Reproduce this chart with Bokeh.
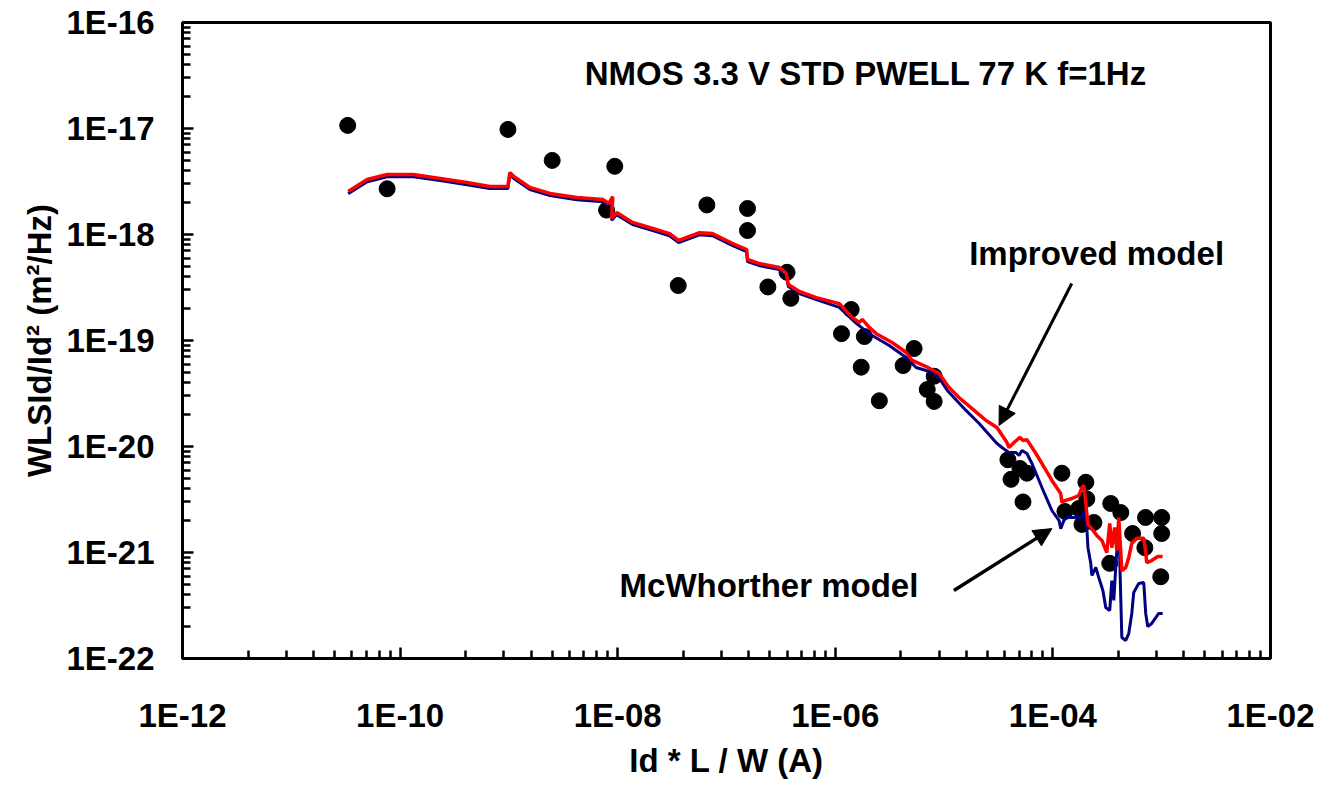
from bokeh.plotting import figure
from bokeh.models import (FixedTicker, CustomJSTickFormatter, Label, Arrow,
                          NormalHead)
from bokeh.embed import file_html
from bokeh.resources import INLINE

FONT = "Liberation Sans"

# ---- data -------------------------------------------------------------
meas_x = [3.3e-11, 7.6e-11, 9.8e-10, 2.5e-09, 9.4e-09, 7.9e-09, 3.6e-08, 6.6e-08,
          1.56e-07, 1.56e-07, 2.4e-07, 3.6e-07, 3.9e-07,
          1.40e-06, 1.14e-06, 1.85e-06, 1.73e-06, 2.54e-06, 5.3e-06, 4.2e-06,
          8.1e-06, 7.0e-06, 8.1e-06,
          3.86e-05, 4.12e-05, 4.98e-05, 5.77e-05, 5.31e-05,
          1.21e-04, 2.01e-04, 2.05e-04, 1.29e-04, 1.73e-04, 1.85e-04, 2.38e-04,
          3.40e-04, 4.21e-04, 7.1e-04, 1.0e-03, 5.4e-04, 1.0e-03, 7.0e-04,
          3.33e-04, 9.8e-04]
meas_y = [1.07e-17, 2.7e-18, 9.8e-18, 5.0e-18, 4.4e-18, 1.7e-18, 3.3e-19, 1.9e-18,
          1.76e-18, 1.09e-18, 3.2e-19, 4.4e-19, 2.5e-19,
          1.96e-19, 1.16e-19, 1.09e-19, 5.6e-20, 2.7e-20, 8.4e-20, 5.8e-20,
          4.6e-20, 3.45e-20, 2.66e-20,
          7.5e-21, 4.9e-21, 6.2e-21, 5.6e-21, 3.0e-21,
          5.6e-21, 4.6e-21, 3.2e-21, 2.44e-21, 2.6e-21, 1.84e-21, 1.92e-21,
          2.9e-21, 2.38e-21, 2.14e-21, 2.14e-21, 1.51e-21, 1.51e-21, 1.11e-21,
          7.9e-22, 5.9e-22]

improved_x = [3.33e-11, 4.98e-11, 7.60e-11, 1.32e-10, 2.33e-10, 4.12e-10, 6.69e-10, 9.79e-10, 1.02e-09, 1.11e-09,
              1.56e-09, 2.38e-09, 4.21e-09, 7.29e-09, 8.27e-09, 9.0e-09, 8.81e-09, 9.79e-09, 1.37e-08, 2.10e-08,
              3.00e-08, 3.63e-08, 5.65e-08, 7.44e-08, 1.14e-07, 1.53e-07, 1.56e-07, 2.01e-07, 3.06e-07, 3.55e-07,
              3.70e-07, 4.67e-07, 6.69e-07, 1.09e-06, 1.43e-06, 1.66e-06, 1.77e-06, 2.05e-06, 2.38e-06, 3.33e-06,
              4.48e-06, 5.09e-06, 6.84e-06, 9.0e-06, 1.11e-05, 1.37e-05, 1.81e-05, 2.43e-05, 3.06e-05, 3.78e-05,
              3.95e-05, 4.39e-05, 4.98e-05, 5.31e-05, 5.77e-05, 6.98e-05, 7.93e-05, 9.79e-05, 1.18e-04, 1.21e-04,
              1.29e-04, 1.49e-04, 1.73e-04, 1.85e-04, 1.93e-04, 2.05e-04, 2.10e-04, 2.28e-04, 2.53e-04, 2.82e-04,
              3.13e-04, 3.33e-04, 3.48e-04, 3.70e-04, 3.87e-04, 4.03e-04, 4.30e-04, 4.67e-04, 4.98e-04, 5.31e-04,
              5.90e-04, 6.84e-04, 7.13e-04, 7.29e-04, 8.10e-04, 9.19e-04, 1.02e-03]
improved_y = [2.54e-18, 3.30e-18, 3.68e-18, 3.68e-18, 3.38e-18, 3.09e-18, 2.84e-18, 2.84e-18, 3.85e-18, 3.53e-18,
              2.78e-18, 2.44e-18, 2.23e-18, 2.14e-18, 1.96e-18, 2.28e-18, 1.42e-18, 1.61e-18, 1.30e-18, 1.14e-18,
              1.02e-18, 8.78e-19, 1.04e-18, 1.02e-18, 8.22e-19, 7.22e-19, 5.81e-19, 5.32e-19, 4.88e-19, 4.29e-19,
              3.38e-19, 2.90e-19, 2.54e-19, 2.23e-19, 1.65e-19, 1.48e-19, 1.58e-19, 1.33e-19, 1.16e-19, 9.57e-20,
              7.70e-20, 6.48e-20, 5.68e-20, 4.88e-20, 3.60e-20, 2.90e-20, 2.28e-20, 1.76e-20, 1.51e-20, 1.09e-20,
              9.78e-21, 1.09e-20, 1.22e-20, 1.14e-20, 1.16e-20, 8.59e-21, 6.91e-21, 4.78e-21, 3.60e-21, 2.96e-21,
              3.09e-21, 3.23e-21, 3.45e-21, 4.10e-21, 4.29e-21, 2.33e-21, 1.84e-21, 1.68e-21, 1.45e-21, 1.30e-21,
              1.00e-21, 1.88e-21, 1.11e-21, 1.72e-21, 1.04e-21, 2.14e-21, 6.76e-22, 7.22e-22, 8.97e-22, 1.22e-21,
              1.36e-21, 1.36e-21, 1.00e-21, 8.04e-22, 8.40e-22, 9.17e-22, 9.17e-22]

mcw_x = [3.33e-11, 4.98e-11, 7.60e-11, 1.32e-10, 2.33e-10, 4.12e-10, 6.69e-10, 9.79e-10, 1.02e-09, 1.11e-09,
         1.56e-09, 2.38e-09, 4.21e-09, 7.29e-09, 8.27e-09, 9.0e-09, 8.81e-09, 9.79e-09, 1.37e-08, 2.10e-08,
         3.00e-08, 3.63e-08, 5.65e-08, 7.44e-08, 1.14e-07, 1.53e-07, 1.56e-07, 2.01e-07, 3.06e-07, 3.55e-07,
         3.70e-07, 4.67e-07, 6.69e-07,
         1.09e-06, 1.56e-06, 2.05e-06, 3.13e-06, 4.48e-06, 5.53e-06, 8.45e-06, 1.07e-05, 1.59e-05, 2.10e-05,
         3.06e-05, 3.40e-05, 3.95e-05, 4.58e-05, 4.88e-05, 5.20e-05, 5.77e-05, 6.42e-05, 7.93e-05, 9.79e-05,
         1.14e-04, 1.18e-04, 1.26e-04, 1.34e-04, 1.81e-04, 1.93e-04, 2.05e-04, 2.10e-04, 2.23e-04, 2.28e-04,
         2.48e-04, 2.64e-04, 2.88e-04, 3.06e-04, 3.33e-04, 3.48e-04, 3.63e-04, 3.78e-04, 4.03e-04, 4.30e-04,
         4.67e-04, 4.98e-04, 5.31e-04, 5.53e-04, 6.15e-04, 6.84e-04, 7.13e-04, 7.44e-04, 8.10e-04, 9.39e-04,
         1.02e-03]
mcw_y = [2.43e-18, 3.15e-18, 3.51e-18, 3.51e-18, 3.23e-18, 2.95e-18, 2.71e-18, 2.71e-18, 3.68e-18, 3.37e-18,
         2.65e-18, 2.33e-18, 2.13e-18, 2.04e-18, 1.87e-18, 2.18e-18, 1.36e-18, 1.54e-18, 1.24e-18, 1.09e-18,
         9.74e-19, 8.38e-19, 9.93e-19, 9.74e-19, 7.85e-19, 6.90e-19, 5.55e-19, 5.08e-19, 4.66e-19, 4.10e-19,
         3.23e-19, 2.77e-19, 2.43e-19,
         2.05e-19, 1.45e-19, 1.16e-19, 8.97e-20, 6.91e-20, 5.56e-20, 4.88e-20, 3.38e-20, 2.19e-20, 1.65e-20,
         1.07e-20, 9.78e-21, 8.78e-21, 8.78e-21, 8.22e-21, 9.17e-21, 8.59e-21, 6.91e-21, 4.10e-21, 2.49e-21,
         2.00e-21, 1.68e-21, 2.00e-21, 2.14e-21, 2.14e-21, 2.38e-21, 1.72e-21, 1.11e-21, 7.87e-22, 6.07e-22,
         7.22e-22, 5.81e-22, 4.38e-22, 3.03e-22, 2.84e-22, 5.44e-22, 3.53e-22, 7.22e-22, 1.92e-21, 1.58e-22,
         1.48e-22, 1.72e-22, 2.66e-22, 4.19e-22, 5.10e-22, 5.21e-22, 2.66e-22, 2.00e-22, 2.14e-22, 2.66e-22,
         2.66e-22]

x_major = [1e-12, 1e-10, 1e-08, 1e-06, 1e-04, 1e-02]
y_major = [1e-22, 1e-21, 1e-20, 1e-19, 1e-18, 1e-17, 1e-16]

chart_title = "NMOS 3.3 V STD PWELL 77 K f=1Hz"
x_title = "Id * L / W (A)"
y_title = "WLSId/Id\u00b2 (m\u00b2/Hz)"
label_improved = "Improved model"
label_mcw = "McWhorther model"

# ---- figure -------------------------------------------------------------
p = figure(x_axis_type="log", y_axis_type="log",
           x_range=(1e-12, 1e-02), y_range=(1e-22, 1e-16),
           frame_width=1088, frame_height=636,
           min_border_left=182, min_border_right=51,
           min_border_top=22, min_border_bottom=120,
           output_backend="svg", toolbar_location=None,
           background_fill_color="white", border_fill_color="white")

p.xgrid.visible = False
p.ygrid.visible = False
p.outline_line_color = "black"
p.outline_line_width = 3
p.outline_line_alpha = 1.0

# x axis: major every 2 decades, Excel-style minor ticks
x_minor = [m * k * k for m in x_major[:-1] for k in range(2, 10)]
y_minor = [m * k for m in y_major[:-1] for k in range(2, 10)]
p.xaxis.ticker = FixedTicker(ticks=x_major, minor_ticks=x_minor)
p.yaxis.ticker = FixedTicker(ticks=y_major, minor_ticks=y_minor)

fmt_code = """
const e = Math.round(Math.log10(tick));
const a = Math.abs(e);
return '1E' + (e < 0 ? '-' : '+') + (a < 10 ? '0' + a : '' + a);
"""
p.xaxis.formatter = CustomJSTickFormatter(code=fmt_code)
p.yaxis.formatter = CustomJSTickFormatter(code=fmt_code)

for ax in (p.xaxis[0], p.yaxis[0]):
    ax.axis_line_width = 3
    ax.axis_line_color = "black"
    ax.major_tick_line_width = 2.5
    ax.minor_tick_line_width = 2.5
    ax.major_tick_line_color = "black"
    ax.minor_tick_line_color = "black"
    ax.major_tick_in = 11
    ax.major_tick_out = 0
    ax.minor_tick_in = 8
    ax.minor_tick_out = 0
    ax.major_label_text_font = FONT
    ax.major_label_text_font_style = "bold"
    ax.major_label_text_font_size = "33px"
    ax.major_label_text_color = "black"
    ax.axis_label_text_font = FONT
    ax.axis_label_text_font_style = "bold"
    ax.axis_label_text_font_size = "33px"
    ax.axis_label_text_color = "black"

p.xaxis.axis_label = x_title
p.yaxis.axis_label = y_title
p.xaxis.major_label_standoff = 38
p.xaxis.axis_label_standoff = 5
p.yaxis.major_label_standoff = 28
p.yaxis.axis_label_standoff = 5

# ---- glyphs -----------------------------------------------------------------
p.scatter(meas_x, meas_y, marker="circle", size=16,
          fill_color="black", line_color="black")
p.line(mcw_x, mcw_y, line_color="#000080", line_width=3)
p.line(improved_x, improved_y, line_color="#FF0000", line_width=3.5)

# ---- annotations --------------------------------------------------------------
p.add_layout(Label(x=4.98e-09, y=3.3e-17, text=chart_title,
                   text_font=FONT, text_font_style="bold",
                   text_font_size="33px", text_baseline="middle",
                   text_align="left", text_color="black"))
p.add_layout(Label(x=1.70e-05, y=6.62e-19, text=label_improved,
                   text_font=FONT, text_font_style="bold",
                   text_font_size="33px", text_baseline="middle",
                   text_align="left", text_color="black"))
p.add_layout(Label(x=1.04e-08, y=4.88e-22, text=label_mcw,
                   text_font=FONT, text_font_style="bold",
                   text_font_size="33px", text_baseline="middle",
                   text_align="left", text_color="black"))

p.add_layout(Arrow(end=NormalHead(size=18, fill_color="black", line_color="black"),
                   x_start=1.49e-04, y_start=3.45e-19,
                   x_end=3.20e-05, y_end=1.58e-20,
                   line_color="black", line_width=3))
p.add_layout(Arrow(end=NormalHead(size=18, fill_color="black", line_color="black"),
                   x_start=1.23e-05, y_start=4.38e-22,
                   x_end=9.79e-05, y_end=1.68e-21,
                   line_color="black", line_width=3.5))

open("out.html", "w").write(file_html(p, INLINE))
